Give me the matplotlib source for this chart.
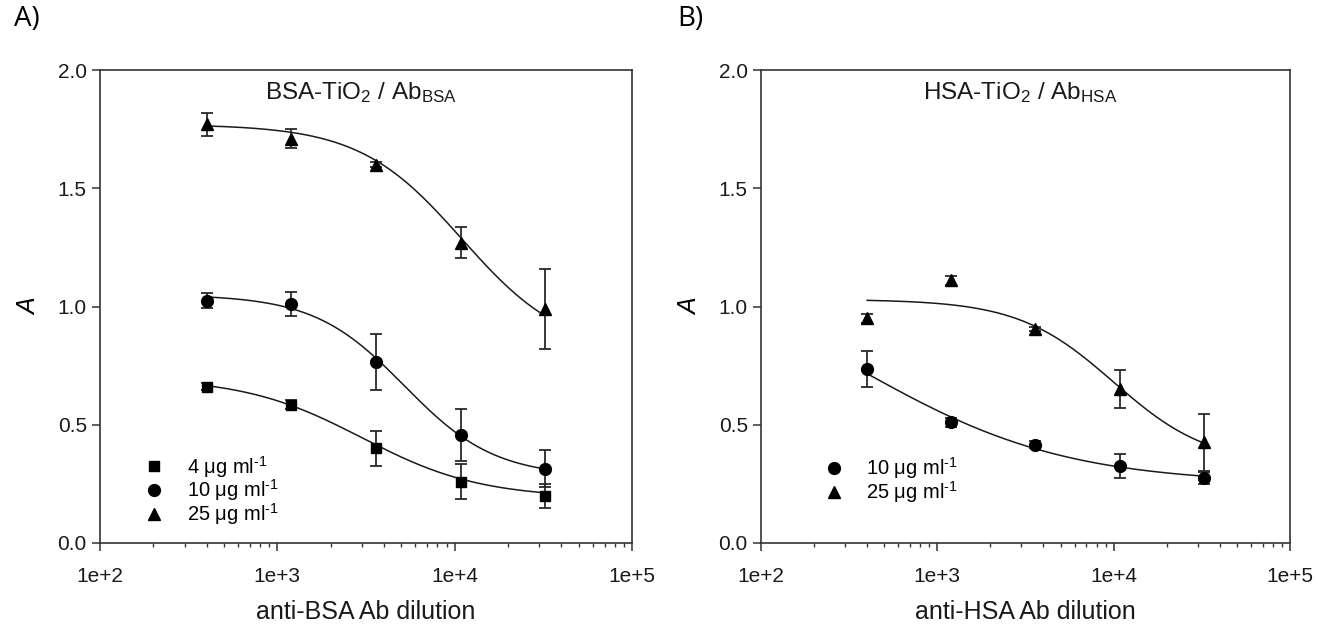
import matplotlib
matplotlib.use('Agg')
import matplotlib.pyplot as plt
import numpy as np

plt.rcParams['font.family'] = 'Liberation Sans'
plt.rcParams['mathtext.fontset'] = 'custom'
plt.rcParams['mathtext.rm'] = 'Liberation Sans'
plt.rcParams['mathtext.it'] = 'Liberation Sans:italic'
plt.rcParams['mathtext.default'] = 'regular'

# dilution series (3-fold)
dilution = [400, 1200, 3600, 10800, 32400]

# panel A: BSA-TiO2 / Ab_BSA
bsa_4 = [0.66, 0.585, 0.40, 0.26, 0.20]
bsa_4_err = [0.015, 0.02, 0.075, 0.075, 0.05]
bsa_10 = [1.025, 1.01, 0.765, 0.455, 0.315]
bsa_10_err = [0.03, 0.05, 0.12, 0.11, 0.08]
bsa_25 = [1.77, 1.71, 1.60, 1.27, 0.99]
bsa_25_err = [0.05, 0.04, 0.01, 0.065, 0.17]

# panel B: HSA-TiO2 / Ab_HSA
hsa_10 = [0.735, 0.51, 0.415, 0.325, 0.275]
hsa_10_err = [0.075, 0.02, 0.015, 0.05, 0.025]
hsa_25 = [0.95, 1.11, 0.905, 0.65, 0.425]
hsa_25_err = [0.02, 0.02, 0.01, 0.08, 0.12]

# 4-parameter logistic fits: top, bottom, ec50, hill
fit_bsa_4 = [0.70, 0.19, 3000, 1.3]
fit_bsa_10 = [1.05, 0.28, 5200, 1.7]
fit_bsa_25 = [1.77, 0.80, 11000, 1.5]
fit_hsa_10 = [1.20, 0.25, 380, 0.75]
fit_hsa_25 = [1.03, 0.33, 10000, 1.6]

unit = ' $\\mu$g ml$^{\\text{-1}}$'
labels_a = ['4' + unit, '10' + unit, '25' + unit]
labels_b = ['10' + unit, '25' + unit]


def logistic(x, p):
    top, bottom, c, h = p
    return bottom + (top - bottom) / (1 + (x / c) ** h)


def drawSeries(ax, y, err, fit, marker, ms, label):
    xs = np.logspace(np.log10(dilution[0]), np.log10(dilution[-1]), 300)
    ax.plot(xs, logistic(xs, fit), color='#1a1a1a', lw=1.1, zorder=2)
    ax.errorbar(dilution, y, yerr=err, fmt='none', ecolor='#2a2a2a',
                elinewidth=1.3, capsize=4.5, capthick=1.3, zorder=3)
    ax.plot(dilution, y, marker=marker, ms=ms, color='black', ls='none',
            label=label, zorder=4)


def styleAxes(ax, title):
    ax.set_xscale('log')
    ax.set_xlim(100, 100000)
    ax.set_ylim(0, 2.0)
    ax.set_yticks([0, 0.5, 1.0, 1.5, 2.0])
    ax.set_yticklabels(['0.0', '0.5', '1.0', '1.5', '2.0'])
    ax.set_xticks([1e2, 1e3, 1e4, 1e5])
    ax.set_xticklabels(['1e+2', '1e+3', '1e+4', '1e+5'])
    ax.yaxis.set_minor_locator(matplotlib.ticker.NullLocator())
    ax.tick_params(which='major', direction='out', length=5.5, width=1.1,
                   labelsize=15, color='#333333', labelcolor='#1a1a1a')
    ax.tick_params(axis='x', which='major', pad=12)
    ax.tick_params(axis='y', which='major', pad=4)
    ax.tick_params(which='minor', direction='out', length=3, width=1.0,
                   color='#333333')
    for s in ax.spines.values():
        s.set_linewidth(1.2)
        s.set_color('#333333')
    ax.text(0.49, 0.953, title, transform=ax.transAxes, ha='center',
            va='center', fontsize=17.5, color='#1a1a1a')
    ax.set_ylabel('A', fontsize=18, style='italic', labelpad=12)


fig = plt.figure(figsize=(13.18, 6.28), dpi=100)
axA = fig.add_axes([100 / 1318, 1 - 543 / 628, 532 / 1318, 473 / 628])
axB = fig.add_axes([761 / 1318, 1 - 543 / 628, 529 / 1318, 473 / 628])

drawSeries(axA, bsa_4, bsa_4_err, fit_bsa_4, 's', 7.5, labels_a[0])
drawSeries(axA, bsa_10, bsa_10_err, fit_bsa_10, 'o', 8.5, labels_a[1])
drawSeries(axA, bsa_25, bsa_25_err, fit_bsa_25, '^', 9, labels_a[2])
styleAxes(axA, 'BSA-TiO$_2$ / Ab$_{BSA}$')
axA.set_xlabel('anti-BSA Ab dilution', fontsize=18, labelpad=10,
               color='#1a1a1a')

drawSeries(axB, hsa_10, hsa_10_err, fit_hsa_10, 'o', 8.5, labels_b[0])
drawSeries(axB, hsa_25, hsa_25_err, fit_hsa_25, '^', 9, labels_b[1])
styleAxes(axB, 'HSA-TiO$_2$ / Ab$_{HSA}$')
axB.set_xlabel('anti-HSA Ab dilution', fontsize=18, labelpad=10,
               color='#1a1a1a')

axA.legend(loc='lower left', bbox_to_anchor=(0.068, 0.016), frameon=False,
           fontsize=14.5, handlelength=1.0, handletextpad=1.1,
           labelspacing=-0.1, borderaxespad=0)
axB.legend(loc='lower left', bbox_to_anchor=(0.104, 0.063), frameon=False,
           fontsize=14.5, handlelength=1.0, handletextpad=1.1,
           labelspacing=-0.1, borderaxespad=0)

fig.text(14 / 1318, 1 - 19 / 628, 'A)', fontsize=20, family='Open Sans',
         va='center')
fig.text(677 / 1318, 1 - 19 / 628, 'B)', fontsize=20, family='Open Sans',
         va='center')

fig.savefig('out.png', dpi=100)
